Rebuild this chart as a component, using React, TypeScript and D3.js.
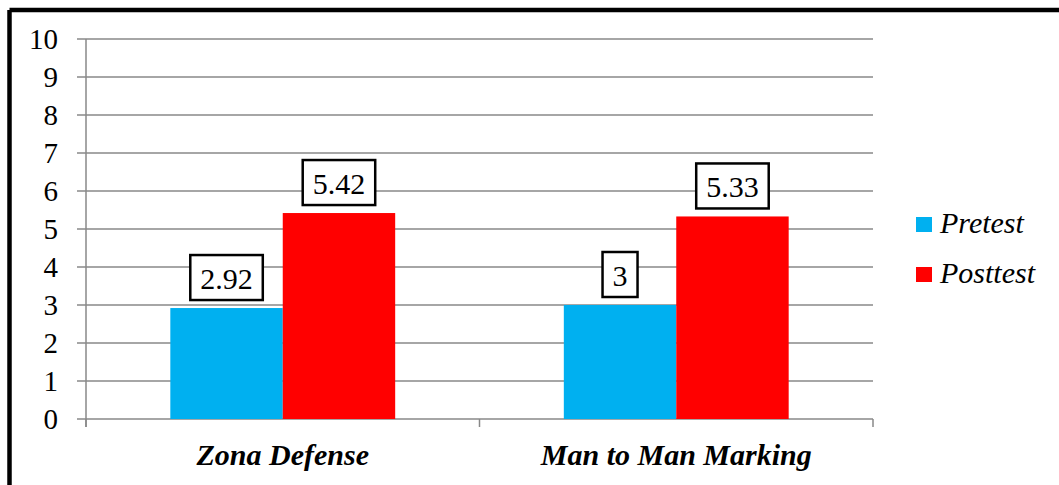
import React from "react";
import * as d3 from "d3";

const categories = ["Zona Defense", "Man to Man Marking"];
const seriesNames = ["Pretest", "Posttest"];
const pretest = [2.92, 3];
const posttest = [5.42, 5.33];
const yTicks = [0, 1, 2, 3, 4, 5, 6, 7, 8, 9, 10];
const colors = ["#00B0F0", "#FF0000"];

const W = 1059;
const H = 485;
const plot = { left: 86, right: 873, top: 39, bottom: 419 };

const css = `
html body #root svg.chart text.serif,
html body #root svg.chart g text.serif {
  font-family: "Liberation Serif", Tinos, "Times New Roman", serif !important;
}
`;

const App = () => {
  const x = d3.scaleBand().domain(categories).range([plot.left, plot.right]);
  const inner = d3
    .scaleBand()
    .domain(seriesNames)
    .range([0, x.bandwidth()])
    .paddingInner(0)
    .paddingOuter(0.75);
  const y = d3.scaleLinear().domain([0, 10]).range([plot.bottom, plot.top]);
  const values = [pretest, posttest];

  return (
    <div style={{ position: "absolute", left: 0, top: 0 }}>
      <style>{css}</style>
      <svg className="chart" width={W} height={H} style={{ display: "block", background: "#fff" }}>
        {/* outer frame: only left and top edges show */}
        <line x1={9.5} y1={10} x2={W + 5} y2={10} stroke="#000" strokeWidth={4.5} />
        <line x1={9.5} y1={10} x2={9.5} y2={H + 5} stroke="#000" strokeWidth={4.5} />

        {/* gridlines */}
        {yTicks.map((t) => (
          <line
            key={t}
            x1={plot.left - 9}
            x2={plot.right}
            y1={y(t)}
            y2={y(t)}
            stroke="#888"
            strokeWidth={1.5}
          />
        ))}
        {/* y axis */}
        <line x1={plot.left} x2={plot.left} y1={plot.top} y2={plot.bottom + 8} stroke="#888" strokeWidth={1.5} />
        {/* category ticks */}
        {[plot.left, ...categories.map((c) => (x(c) as number) + x.bandwidth())].map((px, i) => (
          <line key={i} x1={px} x2={px} y1={plot.bottom} y2={plot.bottom + 8} stroke="#888" strokeWidth={1.5} />
        ))}

        {yTicks.map((t) => (
          <text className="serif" key={t} x={58} y={y(t) + 10} textAnchor="end" fontFamily="Liberation Serif" fontSize={29}>
            {t}
          </text>
        ))}

        {/* bars */}
        {categories.map((c, ci) =>
          seriesNames.map((s, si) => {
            const v = values[si][ci];
            const bx = (x(c) as number) + (inner(s) as number);
            return (
              <rect
                key={c + s}
                x={bx}
                y={y(v)}
                width={inner.bandwidth()}
                height={y(0) - y(v)}
                fill={colors[si]}
              />
            );
          })
        )}

        {/* data labels */}
        {categories.map((c, ci) =>
          seriesNames.map((s, si) => {
            const v = values[si][ci];
            const cx = (x(c) as number) + (inner(s) as number) + inner.bandwidth() / 2;
            const label = String(v);
            const tw = label.replace(".", "").length * 15 + (label.includes(".") ? 7.5 : 0);
            const bw = tw + 20;
            const bh = 45;
            const by = y(v) - 8 - bh;
            return (
              <g key={"l" + c + s}>
                <rect x={cx - bw / 2} y={by} width={bw} height={bh} fill="#fff" stroke="#000" strokeWidth={2.5} />
                <text className="serif" x={cx} y={by + bh - 11} textAnchor="middle" fontFamily="Liberation Serif" fontSize={30}>
                  {label}
                </text>
              </g>
            );
          })
        )}

        {/* category labels */}
        {categories.map((c) => (
          <text
            className="serif"
            key={c}
            x={(x(c) as number) + x.bandwidth() / 2}
            y={465}
            textAnchor="middle"
            fontFamily="Liberation Serif"
            fontSize={30}
            fontWeight="bold"
            fontStyle="italic"
          >
            {c}
          </text>
        ))}

        {/* legend */}
        {seriesNames.map((s, i) => (
          <g key={s} transform={`translate(916, ${217 + i * 50})`}>
            <rect x={0} y={0} width={16} height={15} fill={colors[i]} />
            <text className="serif" x={24} y={16} fontFamily="Liberation Serif" fontSize={30} fontStyle="italic">
              {s}
            </text>
          </g>
        ))}
      </svg>
    </div>
  );
};

export default App;
